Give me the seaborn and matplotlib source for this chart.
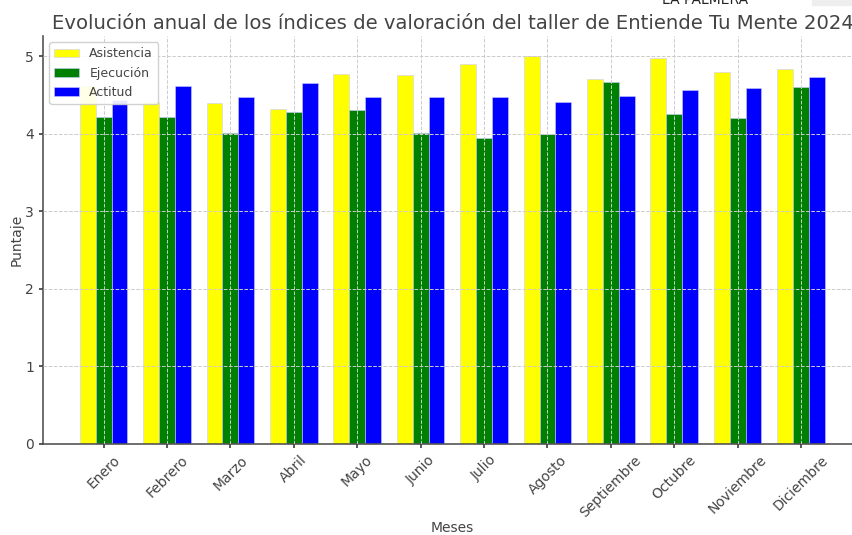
import pandas as pd
import matplotlib
matplotlib.use("Agg")
import matplotlib.pyplot as plt
import seaborn as sns

# ==========================================
# DATOS
# ==========================================
meses = ['Enero', 'Febrero', 'Marzo', 'Abril', 'Mayo', 'Junio',
         'Julio', 'Agosto', 'Septiembre', 'Octubre', 'Noviembre', 'Diciembre']
asistencia = [4.61, 4.41, 4.40, 4.32, 4.77, 4.76, 4.90, 5.00, 4.71, 4.97, 4.80, 4.83]
ejecucion = [4.22, 4.21, 4.01, 4.28, 4.31, 4.01, 3.94, 4.00, 4.67, 4.25, 4.20, 4.60]
actitud = [4.43, 4.61, 4.48, 4.65, 4.48, 4.48, 4.48, 4.41, 4.49, 4.56, 4.59, 4.73]
series = ['Asistencia', 'Ejecución', 'Actitud']
colores = ['yellow', 'green', 'blue']

df = pd.DataFrame({
    'Meses': meses * 3,
    'Serie': [s for s in series for _ in meses],
    'Puntaje': asistencia + ejecucion + actitud,
})

# ==========================================
# ESTILO
# ==========================================
sns.set_theme(style="white")
plt.rcParams.update({
    'font.family': ['DejaVu Sans'],
    'text.color': '#444444',
    'axes.labelcolor': '#444444',
    'xtick.color': '#444444',
    'ytick.color': '#444444',
    'axes.edgecolor': '#555555',
})

fig = plt.figure(figsize=(8.52, 5.35), dpi=100)
ax = fig.add_axes([0.0505, 0.1701, 0.9612, 0.7626])

sns.barplot(data=df, x='Meses', y='Puntaje', hue='Serie', hue_order=series,
            palette=colores, saturation=1, width=0.75, ax=ax, errorbar=None,
            linewidth=0.4, edgecolor='#ccccff')

ax.set_xlim(-0.955, 11.96)
ax.set_ylim(0, 5.26)
ax.set_axisbelow(False)
ax.grid(True, linestyle='--', color='#cccccc', linewidth=0.7)
for s in ['top', 'right']:
    ax.spines[s].set_visible(False)
ax.spines['left'].set_linewidth(1.2)
ax.spines['bottom'].set_linewidth(1.2)
ax.tick_params(axis='both', which='both', length=3, labelsize=10, left=True, bottom=True)
plt.setp(ax.get_xticklabels(), rotation=45, ha='center')

ax.set_title('Evolución anual de los índices de valoración del taller de Entiende Tu Mente 2024',
             fontsize=14.1, color='#444444', pad=5)
ax.set_xlabel('Meses', fontsize=10, labelpad=1)
ax.set_ylabel('Puntaje', fontsize=10, labelpad=1)
ax.legend(loc='upper left', fontsize=9, title=None, frameon=True, framealpha=0.9,
          borderaxespad=0.5)

# restos del recorte de la captura
fig.text(0.828, 1.0, 'LA PALMERA', fontsize=10, color='#222222', ha='center', va='center')
fig.patches.append(plt.Rectangle((0.953, 0.99), 0.047, 0.01, transform=fig.transFigure,
                                 color='#eeeeee', figure=fig))

fig.savefig('out.png', dpi=100)
